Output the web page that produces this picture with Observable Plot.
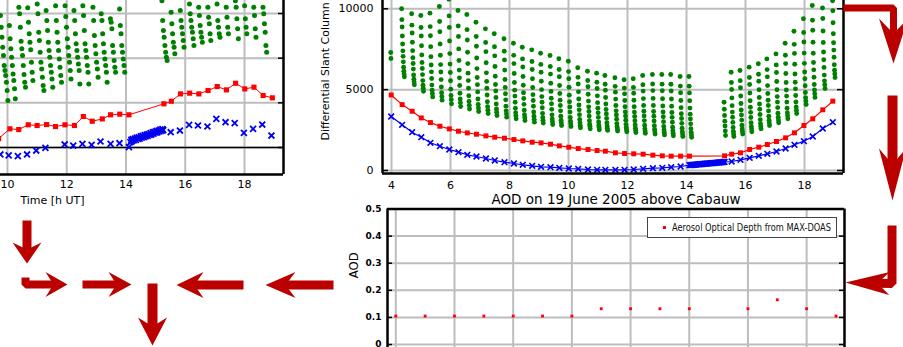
<!DOCTYPE html>
<html><head><meta charset="utf-8">
<script src="https://cdn.jsdelivr.net/npm/d3@7"></script>
<script src="https://cdn.jsdelivr.net/npm/@observablehq/plot@0.6"></script>
<style>
html,body{margin:0;padding:0;background:#fff;}
#wrap{position:relative;width:903px;height:347px;overflow:hidden;background:#fff;font-family:"DejaVu Sans",sans-serif;}
#wrap > svg{position:absolute;left:0;top:0;background:transparent;}
#legend{position:absolute;left:647px;top:217px;width:188px;height:19px;border:1px solid #444;background:#fff;
 font-family:"DejaVu Sans",sans-serif;font-stretch:condensed;font-size:10px;line-height:19px;color:#111;white-space:nowrap;overflow:hidden;}
#legend .sw{position:absolute;left:15px;top:8px;width:3px;height:3px;background:#ff0000;}
#legend .tx{position:absolute;left:24px;top:0;display:inline-block;transform-origin:0 50%;}
</style></head><body><div id="wrap"></div>
<script>
// ---------------- DATA ----------------
// Right chart (full day, Differential Slant Column)
const scanTimesR = [3.99,4.36,4.70,5.01,5.32,5.64,5.96,6.27,6.57,6.88,7.20,7.50,7.83,8.15,8.45,8.77,9.07,9.39,9.69,10.01,10.33,10.66,10.97,11.25,11.59,11.90,12.21,12.53,12.86,13.18,13.48,13.80,14.10,15.29,15.53,15.83,16.14,16.45,16.74,17.05,17.36,17.66,17.98,18.28,18.62,18.96];
const redR = [4670,4074,3663,3251,2963,2737,2572,2428,2325,2243,2140,2058,1996,1914,1831,1749,1708,1626,1523,1440,1358,1296,1235,1194,1093,1051,1031,1010,948,907,887,887,887,907,1010,1093,1299,1443,1608,1793,2020,2330,2783,3196,3752,4287];
const blueR = [3340,2826,2369,2060,1713,1502,1299,1132,971,866,742,619,515,433,350,289,227,206,165,124,103,62,41,41,41,41,62,103,144,165,206,247,330,530,557,660,784,907,1031,1175,1361,1588,1814,2103,2597,2989];
const blueGapTimesR = [14.14,14.18,14.22,14.26,14.30,14.34,14.38,14.42,14.46,14.50,14.54,14.58,14.62,14.66,14.70,14.74,14.78,14.82,14.86,14.90,14.94,14.98,15.02,15.06,15.10,15.14,15.18,15.22,15.26];
const blueGapR = [335,340,350,355,360,370,375,380,390,395,400,410,415,420,430,435,440,450,455,460,470,475,480,490,495,500,510,515,525];
const elevOffsetsR = [-1,-0.5,0,0.5,1,1.5,2,2.5,3,3.5,4,4.5]; // minutes within a scan
const greenR = [
 [7300,6930],
 [10000,9330,8870,8320,7820,7400,7060,6720,6390,6140,5970,5800],
 [9690,8990,8500,7930,7410,6970,6620,6270,5910,5650,5480,5300],
 [9585,8840,8320,7710,7150,6680,6310,5930,5560,5270,5090,4900],
 [9730,8900,8330,7660,7040,6520,6100,5690,5280,4970,4760,4550],
 [10140,9210,8580,7820,7130,6550,6090,5620,5160,4810,4580,4350],
 [10600,9560,8850,8010,7230,6580,6060,5550,5030,4640,4380,4120],
 [9895,8940,8290,7520,6800,6210,5730,5260,4780,4420,4190,3950],
 [9650,8710,8070,7310,6610,6020,5560,5090,4620,4270,4030,3800],
 [9170,8290,7680,6960,6300,5750,5310,4860,4420,4090,3870,3650],
 [8760,7920,7350,6660,6040,5510,5090,4670,4250,3940,3730,3520],
 [8455,7650,7090,6430,5830,5320,4920,4510,4110,3800,3600,3400],
 [8145,7370,6840,6210,5630,5140,4750,4370,3980,3690,3490,3300],
 [7870,7120,6610,6000,5440,4970,4600,4220,3850,3570,3380,3195],
 [7625,6900,6400,5810,5270,4810,4450,4090,3725,3450,3270,3090],
 [7460,6745,6250,5670,5135,4690,4330,3975,3615,3350,3170,2990],
 [7250,6560,6080,5520,5000,4570,4225,3880,3535,3275,3100,2930],
 [7110,6430,5960,5400,4890,4465,4125,3780,3440,3185,3015,2845],
 [6910,6250,5795,5260,4760,4350,4020,3690,3360,3110,2945,2780],
 [6760,6115,5670,5145,4660,4255,3930,3610,3285,3045,2880,2720],
 [6350,5760,5350,4865,4420,4050,3750,3455,3160,2935,2790,2640],
 [6140,5570,5180,4715,4290,3935,3650,3365,3080,2865,2720,2580],
 [6020,5455,5070,4615,4195,3845,3565,3285,3005,2795,2655,2515],
 [5875,5330,4960,4515,4110,3770,3500,3225,2955,2750,2615,2480],
 [5735,5205,4845,4415,4020,3690,3430,3165,2900,2705,2570,2440],
 [5610,5095,4740,4325,3940,3620,3365,3105,2850,2655,2530,2400],
 [5670,5140,4775,4340,3945,3610,3345,3080,2815,2615,2480,2350],
 [5875,5300,4910,4445,4015,3660,3375,3085,2800,2585,2445,2300],
 [5935,5345,4940,4460,4020,3650,3355,3060,2765,2545,2395,2250],
 [5935,5340,4930,4440,3990,3620,3320,3020,2725,2500,2350,2200],
 [5935,5330,4915,4420,3970,3590,3285,2985,2680,2455,2300,2150],
 [5815,5220,4810,4330,3885,3510,3215,2915,2620,2395,2250,2100],
 [5815,5215,4800,4315,3860,3485,3185,2885,2585,2360,2210,2060],
 [4220,3790,3400,3050,2750,2450,2165],
 [6080,5445,5005,4490,4010,3610,3295,2975,2655,2420,2260,2100],
 [6185,5555,5120,4610,4140,3745,3430,3115,2800,2565,2405,2250],
 [6390,5750,5315,4795,4315,3915,3595,3280,2960,2720,2560,2400],
 [6600,5955,5515,4990,4510,4110,3785,3465,3145,2900,2740,2580],
 [6900,6240,5790,5250,4760,4345,4015,3685,3355,3110,2945,2780],
 [7210,6530,6060,5505,4995,4570,4230,3890,3545,3290,3120,2950],
 [7870,7125,6610,6000,5440,4975,4600,4230,3855,3575,3385,3200],
 [8615,7800,7240,6575,5965,5455,5050,4640,4235,3930,3725,3520],
 [9380,8530,7950,7260,6625,6095,5670,5245,4820,4505,4290,4080],
 [10200,9290,8670,7930,7250,6680,6225,5770,5315,4975,4750,4520],
 [11000,10050,9400,8630,7915,7325,6850,6375,5900,5545,5305,5070],
 [11400,10500,9875,9140,8460,7900,7445,7000,6540,6200,5975,5750]
];

// Left chart (cropped, Time [h UT])
const scanTimesL = [9.70,10.08,10.38,10.70,11.00,11.32,11.62,11.94,12.26,12.56,12.86,13.20,13.48,13.79,14.10,15.28,15.53,15.84,16.15,16.46,16.77,17.08,17.39,17.70,18.01,18.32,18.63,18.94];
const redL = [1000,2090,2010,2540,2460,2570,2350,2540,2460,3470,2940,3200,3660,3730,3660,4890,5180,6000,6080,6000,6380,6820,6450,7190,6560,6750,5820,5560];
const blueTimesL = [9.76,10.04,10.35,10.66,10.97,11.28,11.93,12.22,12.53,12.84,13.14,13.48,13.78,14.10,
 14.15,14.18,14.20,14.23,14.26,14.30,14.33,14.36,14.40,14.43,14.46,14.50,14.53,14.56,14.60,14.63,14.66,14.70,14.73,14.76,14.80,14.83,14.86,14.90,14.93,14.96,15.00,15.03,15.06,15.10,15.13,15.16,15.20,15.23,15.26,
 15.51,15.82,16.13,16.43,16.75,17.05,17.36,17.67,17.98,18.29,18.60,18.91];
const blueL = [-780,-890,-970,-780,-340,-40,340,220,410,300,670,410,480,40,
 600,850,700,950,800,1000,850,1100,950,1150,1000,1250,1100,1300,1150,1400,1250,1450,1300,1500,1400,1600,1450,1700,1550,1750,1650,1850,1700,1900,1800,2000,1850,2050,1950,
 1710,1900,2540,2460,2350,3200,2830,2720,1640,2090,2570,1340];
const greenScanTimesL = [10.08,10.38,10.70,11.00,11.32,11.62,11.94,12.26,12.56,12.86,13.20,13.48,13.79,14.10,15.53,15.84,16.15,16.46,16.77,17.08,17.39,17.70,18.01,18.32,18.63,18.94];
const elevOffsetsL = [-19,-17.5,-16,-14.5,-13,-11.5,-10,-8.5,-7,-5.5,-4]; // minutes within a scan
const greenL = [
 [14765,13460,12340,11220,10290,9170,8610,8050,7310,6380,5260],
 [13650,12160,11040,10100,9170,8240,7490,6570,5450],
 [15690,14960,13460,11890,11040,10290,9170,8170,7310,6750],
 [15630,14020,12720,11780,10930,9540,8420,7490],
 [16070,14960,12900,11970,10660,9540,8800,7860,6940,6380],
 [15330,14210,13090,11780,10850,10100,9170,8420,7680,6750],
 [15880,14210,12900,11780,10850,9920,8980,8050,7310],
 [15880,14650,13460,12160,11220,10290,9540,8610,7680],
 [15330,14210,12720,11600,10850,10100,9360,8610,7120],
 [15880,14770,13090,11600,10850,10100,9170,8420,7120],
 [15690,14210,12530,11410,10480,9540,8800,7860],
 [14960,14210,12720,11600,10660,9920,9170,8420,7310],
 [14400,14020,13280,11410,10660,9730,8980,8420],
 [15510,13650,12720,11410,10660,9920,9170,8420],
 [16440,14210,13090,12340,11410,10660,10100,9730],
 [15140,13840,12720,11780,11220,10480],
 [15330,14210,13460,12720,11970,11220],
 [16070,14960,14210,13460,12900,12160,11410],
 [15690,14770,13650,12900,12340,11780],
 [15690,14580,13840,12720,11970],
 [16070,14210,13460,12720,12340],
 [15690,14580,13460,12720],
 [16440,15690,14400,13280,12160],
 [15880,14400,13460,12720],
 [15690,14770,13280,12340],
 [15690,14960,13840,12900,11410,10660]
];

// AOD chart
const aodHours = [4,5,6,7,8,9,10,11,12,13,14,16,17,18,19];
const aodValues = [0.105,0.105,0.105,0.105,0.105,0.105,0.105,0.132,0.132,0.132,0.132,0.132,0.165,0.132,0.105];

// Tick labels
const hourTicksR = [4,6,8,10,12,14,16,18];
const hourTicksL = [10,12,14,16,18];
const dscTicksR = [0,5000,10000];
const dscTicksL = [0,5000,10000,15000];
const aodTicks = [0,0.1,0.2,0.3,0.4,0.5];
const aodGrid = [0,0.1,0.2,0.3,0.4];

// Texts
const xLabelL = "Time [h UT]";
const yLabelR = "Differential Slant Column [10\u00B9\u2075 molec/cm\u00B2]";
const aodTitle = "AOD on 19 June 2005 above Cabauw";
const aodYLabel = "AOD";
const legendText = "Aerosol Optical Depth from MAX-DOAS";

// ---------------- STYLE / LAYOUT ----------------
const GREEN = "#008000", RED = "#ff0000", BLUE = "#0000ee", GRID = "#bdbdbd", ARROW = "#bb0000";
const W = 903, H = 347;
const baseStyle = {background: "transparent", fontFamily: "DejaVu Sans, sans-serif", fontSize: "11px", color: "black", overflow: "hidden"};
const wrap = document.getElementById("wrap");

// rows
const greenRowsR = greenR.flatMap((vals, i) => vals.map((v, k) => ({t: scanTimesR[i] + elevOffsetsR[k] / 60, v})));
const redRowsR = scanTimesR.map((t, i) => ({t, v: redR[i]}));
const blueRowsR = scanTimesR.map((t, i) => ({t, v: blueR[i]}))
  .concat(blueGapTimesR.map((t, i) => ({t, v: blueGapR[i]})))
  .sort((a, b) => a.t - b.t);
const greenRowsL = greenL.flatMap((vals, i) => vals.map((v, k) => ({t: greenScanTimesL[i] + elevOffsetsL[k] / 60, v})));
const redRowsL = scanTimesL.map((t, i) => ({t, v: redL[i]}));
const blueRowsL = blueTimesL.map((t, i) => ({t, v: blueL[i]}));
const aodRows = aodHours.map((t, i) => ({t, v: aodValues[i]}));

// ---- Left (cropped) chart ----
const xDomL = [9.764, 19.317], yDomL = [-3022, 16454];
const left = Plot.plot({
  width: W, height: H, marginLeft: 0, marginRight: 620, marginTop: 0, marginBottom: 173,
  style: baseStyle,
  x: {domain: xDomL},
  y: {domain: yDomL, axis: null},
  marks: [
    Plot.gridX(hourTicksL, {stroke: GRID, strokeOpacity: 1, strokeWidth: 2}),
    Plot.gridY(dscTicksL, {stroke: GRID, strokeOpacity: 1, strokeWidth: 2}),
    Plot.ruleY([0], {stroke: "black", strokeWidth: 1.6}),
    Plot.dot(greenRowsL, {x: "t", y: "v", r: 2.5, fill: GREEN, stroke: "none", clip: true}),
    Plot.line(redRowsL, {x: "t", y: "v", stroke: RED, strokeWidth: 1, clip: true}),
    Plot.dot(redRowsL, {x: "t", y: "v", symbol: "square", r: 2.9, fill: RED, stroke: "none", clip: true}),
    Plot.dot(blueRowsL, {x: "t", y: "v", symbol: "times", r: 2.8, stroke: BLUE, strokeWidth: 1.8, fill: "none", clip: true}),
    Plot.tickY(dscTicksL, {insetLeft: 278, stroke: "black", strokeWidth: 1.5}),
    Plot.ruleX([xDomL[1]], {stroke: "black", strokeWidth: 2.5}),
    Plot.ruleY([yDomL[0]], {stroke: "black", strokeWidth: 2.5}),
    Plot.axisX(hourTicksL, {tickSize: 0, tickPadding: 6, label: null, tickFormat: "d", fontSize: 11}),
    Plot.text([xLabelL], {x: 11.52, frameAnchor: "bottom", lineAnchor: "middle", dy: 26, fontSize: 11})
  ]
});
wrap.appendChild(left);

// ---- Right (full day) chart ----
const xDomR = [3.695, 19.322], yDomR = [-186, 10513];
const right = Plot.plot({
  width: W, height: H, marginLeft: 382, marginRight: 60, marginTop: 0, marginBottom: 174,
  style: baseStyle,
  x: {domain: xDomR},
  y: {domain: yDomR},
  marks: [
    Plot.gridX(hourTicksR, {stroke: GRID, strokeOpacity: 1, strokeWidth: 2}),
    Plot.gridY(dscTicksR, {stroke: GRID, strokeOpacity: 1, strokeWidth: 2}),
    Plot.dot(greenRowsR, {x: "t", y: "v", r: 2.45, fill: GREEN, stroke: "none", clip: true}),
    Plot.line(redRowsR, {x: "t", y: "v", stroke: RED, strokeWidth: 1.2, clip: true}),
    Plot.dot(redRowsR, {x: "t", y: "v", symbol: "square", r: 2.8, fill: RED, stroke: "none", clip: true}),
    Plot.line(blueRowsR, {x: "t", y: "v", stroke: BLUE, strokeWidth: 1.2, clip: true}),
    Plot.dot(blueRowsR, {x: "t", y: "v", symbol: "times", r: 2.7, stroke: BLUE, strokeWidth: 1.6, fill: "none", clip: true}),
    Plot.tickY(dscTicksR, {insetLeft: 455, stroke: "black", strokeWidth: 1.5}),
    Plot.tickY(dscTicksR, {insetRight: 455, stroke: "black", strokeWidth: 1.5}),
    Plot.ruleX([xDomR[0]], {stroke: "black", strokeWidth: 2.5}),
    Plot.ruleX([xDomR[1]], {stroke: "black", strokeWidth: 2.5}),
    Plot.ruleY([yDomR[0]], {stroke: "black", strokeWidth: 2.5}),
    Plot.axisX(hourTicksR, {tickSize: 0, tickPadding: 8, label: null, tickFormat: "d", fontSize: 11}),
    Plot.axisY(dscTicksR, {tickSize: 0, tickPadding: 9, label: null, tickFormat: "d", fontSize: 11}),
    Plot.text([yLabelR], {y: 1855, frameAnchor: "left", lineAnchor: "middle", dx: -57, rotate: -90, textAnchor: "start", fontSize: 11})
  ]
});
wrap.appendChild(right);

// ---- AOD chart ----
const xDomA = [3.717, 19.29], yDomA = [-0.011, 0.5];
const aod = Plot.plot({
  width: W, height: H, marginLeft: 387, marginRight: 59, marginTop: 208.5, marginBottom: 0,
  style: baseStyle,
  x: {domain: xDomA, axis: null},
  y: {domain: yDomA},
  marks: [
    Plot.gridX(hourTicksR, {stroke: GRID, strokeOpacity: 1, strokeWidth: 2}),
    Plot.gridY(aodGrid, {stroke: GRID, strokeOpacity: 1, strokeWidth: 2}),
    Plot.dot(aodRows, {x: "t", y: "v", symbol: "square", r: 1.6, fill: RED, stroke: "none"}),
    Plot.tickY(aodTicks, {insetLeft: 452, stroke: "black", strokeWidth: 1.5}),
    Plot.tickY(aodTicks, {insetRight: 452, stroke: "black", strokeWidth: 1.5}),
    Plot.ruleX([xDomA[0]], {stroke: "black", strokeWidth: 2.5}),
    Plot.ruleX([xDomA[1]], {stroke: "black", strokeWidth: 2.5}),
    Plot.ruleY([yDomA[1]], {stroke: "black", strokeWidth: 2.5}),
    Plot.axisY(aodTicks, {tickSize: 0, tickPadding: 6, label: null, fontSize: 9, fontWeight: "bold",
      tickFormat: d => d === 0 ? "0" : d3.format(".1f")(d)}),
    Plot.text([aodYLabel], {frameAnchor: "left", lineAnchor: "middle", dx: -34, rotate: -90, fontSize: 13,
      fontFamily: "Liberation Sans Narrow, DejaVu Sans Condensed, sans-serif", fontStretch: "condensed"}),
    Plot.text([aodTitle], {frameAnchor: "top", lineAnchor: "middle", dy: -9.5, fontSize: 13.5})
  ]
});
wrap.appendChild(aod);

// legend (inside the AOD frame, top right)
const leg = document.createElement("div");
leg.id = "legend";
leg.innerHTML = '<span class="sw"></span><span class="tx">' + legendText + '</span>';
wrap.appendChild(leg);
const tx = leg.querySelector(".tx");
const tw = tx.getBoundingClientRect().width;
if (tw > 0) tx.style.transform = `scaleX(${159 / tw})`;

// ---- Red flow arrows (decoration overlay) ----
const arrows = [
  {path: [[843,7.5],[893,7.5]], tip: [893,63], L: 45, Wd: 14.5, N: 15, w: 7},
  {path: [[892,95]], tip: [892,200], L: 52, Wd: 13.5, N: 16, w: 10},
  {path: [[891.5,225],[891.5,283]], tip: [845,282], L: 44, Wd: 11.5, N: 12, w: 9},
  {path: [[26.5,220]], tip: [26.5,263], L: 21, Wd: 14.5, N: 7, w: 9},
  {path: [[25,277],[25,284]], tip: [67,284], L: 22, Wd: 12.5, N: 8, w: 8},
  {path: [[82,284]], tip: [131,284], L: 23, Wd: 12.5, N: 8, w: 8},
  {path: [[152,283]], tip: [152,345], L: 28, Wd: 14.5, N: 9, w: 10},
  {path: [[243,284.5]], tip: [176,284.5], L: 27, Wd: 13, N: 9, w: 9},
  {path: [[333,284.5]], tip: [265,284.5], L: 30, Wd: 13, N: 10, w: 9}
];
const arrowMarks = [];
arrows.forEach(a => {
  const last = a.path[a.path.length - 1];
  let dx = a.tip[0] - last[0], dy = a.tip[1] - last[1];
  const len = Math.hypot(dx, dy); dx /= len; dy /= len;
  const px = -dy, py = dx;
  const [tx0, ty0] = a.tip;
  const back = a.L - a.N;
  const shaft = a.path.concat([[tx0 - (back - 1) * dx, ty0 - (back - 1) * dy]]);
  const head = [
    [tx0, ty0],
    [tx0 - a.L * dx + a.Wd * px, ty0 - a.L * dy + a.Wd * py],
    [tx0 - back * dx, ty0 - back * dy],
    [tx0 - a.L * dx - a.Wd * px, ty0 - a.L * dy - a.Wd * py]
  ];
  arrowMarks.push(Plot.line(shaft, {x: d => d[0], y: d => d[1], stroke: ARROW, strokeWidth: a.w,
    strokeLinejoin: "miter", strokeLinecap: "butt", curve: "linear"}));
  arrowMarks.push(Plot.line(head, {x: d => d[0], y: d => d[1], fill: ARROW, stroke: "none", curve: "linear-closed"}));
});
const overlay = Plot.plot({
  width: W, height: H, margin: 0,
  style: {background: "transparent", overflow: "hidden"},
  x: {domain: [0, W], range: [0, W], axis: null},
  y: {domain: [0, H], range: [0, H], axis: null},
  marks: arrowMarks
});
wrap.appendChild(overlay);
</script></body></html>
